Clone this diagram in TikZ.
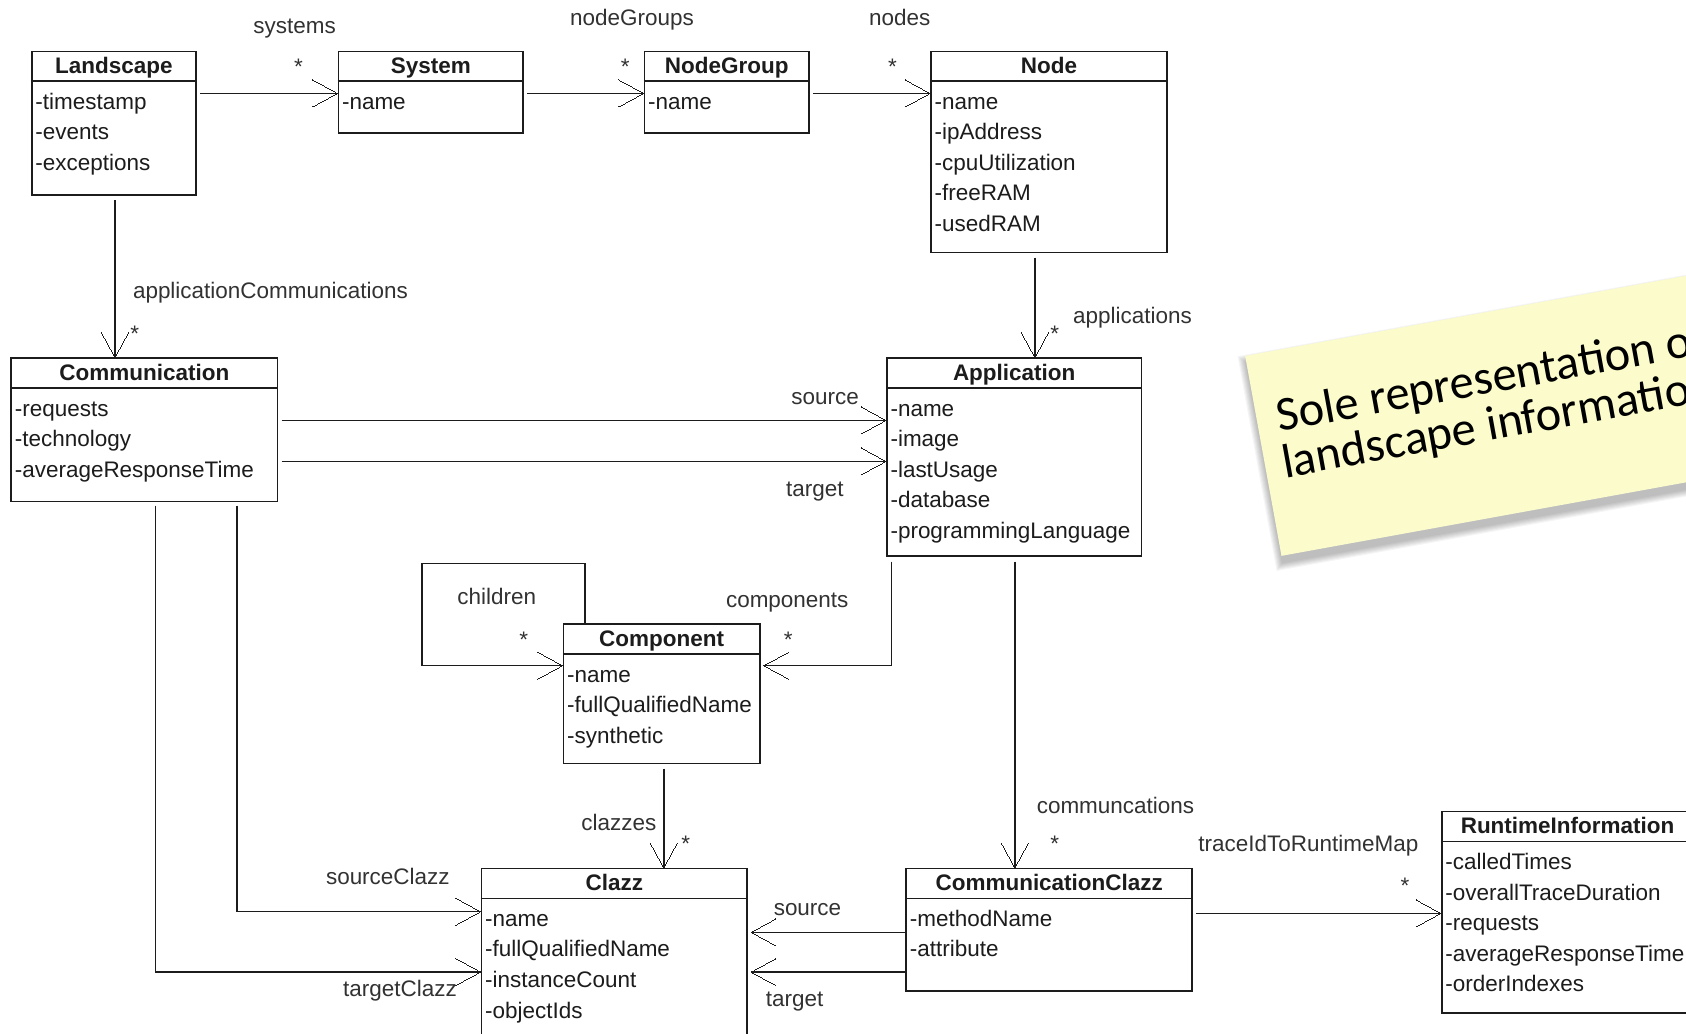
\documentclass[tikz,border=0pt]{standalone}
\usepackage{fontspec}
\setmainfont{Liberation Sans}
\newfontfamily\notefont{Carlito}
\usetikzlibrary{arrows.meta,calc}

\definecolor{ink}{RGB}{28,28,28}
\definecolor{labelink}{RGB}{50,50,50}
\definecolor{notefill}{RGB}{251,251,204}

% open "V" arrow head used by all associations
\pgfdeclarearrow{
  name = UMLvee,
  parameters = {\the\pgfarrowlength,\the\pgfarrowwidth,\the\pgfarrowlinewidth},
  setup code = {
    \pgfarrowssettipend{0pt}
    \pgfarrowssetlineend{-0.5\pgfarrowlinewidth}
    \pgfarrowsupperhullpoint{-\pgfarrowlength}{.5\pgfarrowwidth}
    \pgfarrowshullpoint{0pt}{0pt}
    \pgfarrowssavethe\pgfarrowlength
    \pgfarrowssavethe\pgfarrowwidth
    \pgfarrowssavethe\pgfarrowlinewidth
  },
  drawing code = {
    \pgfsetdash{}{+0pt}
    \pgfsetlinewidth{\pgfarrowlinewidth}
    \pgfsetmiterjoin
    \pgfpathmoveto{\pgfqpoint{-\pgfarrowlength}{.5\pgfarrowwidth}}
    \pgfpathlineto{\pgfqpoint{0pt}{0pt}}
    \pgfpathlineto{\pgfqpoint{-\pgfarrowlength}{-.5\pgfarrowwidth}}
    \pgfusepathqstroke
  },
  defaults = {length = 23pt, width = 25pt}
}

\tikzset{
  classbox/.style={draw=ink, line width=1.6pt, inner sep=0pt, fill=white},
  classsep/.style={draw=ink, line width=1.6pt},
  classtitle/.style={inner sep=0pt, text=ink, font=\fontsize{20.9}{24}\selectfont\bfseries},
  attr/.style={inner sep=0pt, text=ink, font=\fontsize{20.9}{24}\selectfont},
  lbl/.style={inner sep=0pt, text=labelink, font=\fontsize{20.9}{24}\selectfont},
  mult/.style={lbl, anchor=base},
  assoc/.style={draw=ink, line width=1.4pt, -{UMLvee[length=23pt,width=25pt]}},
  notetext/.style={inner sep=0pt, text=black, font=\notefont\fontsize{45}{50}\selectfont},
}

% class box: name, left, top, right, bottom, title, attributes
\newcommand\umlclass[7]{%
  \node[classbox, anchor=north west, minimum width={(#4)-(#2)}, minimum height={(#5)-(#3)}] (#1) at (#2,#3) {};
  \draw[classsep] ([yshift=-28.5pt]#1.north west) -- ([yshift=-28.5pt]#1.north east);
  \node[classtitle, anchor=base] (#1-title) at ([yshift=-21.3pt]#1.north) {#6};
  \foreach \attrtext [count=\attrno] in {#7} {
    \pgfmathsetmacro\attry{54.6+28.4*(\attrno-1)}
    \node[attr, anchor=base west] (#1-a\attrno) at ([shift={(4pt,-\attry pt)}]#1.north west) {\attrtext};
  }
}

\begin{document}
\begin{tikzpicture}[x=1pt, y=-1pt]
\useasboundingbox (0,0) rectangle (1568,961);
\clip (0,0) rectangle (1568,961);
\fill[white] (0,0) rectangle (1568,961);

% ---------- sticky note ----------
\begin{scope}[shift={(1158,331)}, rotate=10.3, transform shape]
  \foreach \e in {1,...,7}
    \fill[black, opacity=0.04] ({0-\e},{6-\e}) rectangle ({660+\e},{195+\e});
  \fill[notefill] (0,0) rectangle (660,189);
  \node[notetext, anchor=base west] (note1) at (19,75) {Sole representation of};
  \node[notetext, anchor=base west] (note2) at (16,118.4) {landscape information};
\end{scope}

% ---------- classes ----------
\umlclass{landscape}{28.8}{47.1}{181.5}{180.4}{Landscape}{-timestamp,-events,-exceptions}
\umlclass{system}{313.9}{47.1}{485.8}{123}{System}{-name}
\umlclass{nodegroup}{598.6}{47.1}{751.5}{123}{NodeGroup}{-name}
\umlclass{node}{865}{47.1}{1084.4}{234}{Node}{-name,-ipAddress,-cpuUtilization,-freeRAM,-usedRAM}
\umlclass{communication}{9.6}{332.3}{257.3}{465.6}{Communication}{-requests,-technology,-averageResponseTime}
\umlclass{application}{824}{332.3}{1060.8}{516.4}{Application}{-name,-image,-lastUsage,-database,-programmingLanguage}
\umlclass{component}{523.2}{579.7}{705.8}{709.3}{Component}{-name,-fullQualifiedName,-synthetic}
\umlclass{clazz}{447}{807}{694}{990}{Clazz}{-name,-fullQualifiedName,-instanceCount,-objectIds}
\umlclass{commclazz}{842}{807}{1108}{921}{CommunicationClazz}{-methodName,-attribute}
\umlclass{runtime}{1340}{754}{1574}{941}{RuntimeInformation}{-calledTimes,-overallTraceDuration,-requests,-averageResponseTime,-orderIndexes}

% ---------- associations ----------
\coordinate (toprow) at ([yshift=-39.7pt]system.north west);
\draw[assoc] ([xshift=3pt]landscape.east |- toprow) -- (system.west |- toprow);
\draw[assoc] ([xshift=3pt]system.east |- toprow) -- (nodegroup.west |- toprow);
\draw[assoc] ([xshift=3pt]nodegroup.east |- toprow) -- (node.west |- toprow);

\draw[assoc] ([shift={(1pt,-4pt)}]landscape.south) coordinate (lcstart) -- (lcstart |- communication.north);
\draw[assoc] ([shift={(-13pt,-4pt)}]node.south) coordinate (nastart) -- (nastart |- application.north);

\draw[assoc] ([shift={(3pt,-58.6pt)}]communication.north east) coordinate (csrc) -- (csrc -| application.west);
\draw[assoc] ([shift={(3pt,-96.7pt)}]communication.north east) coordinate (ctgt) -- (ctgt -| application.west);

\draw[assoc] ([shift={(5.2pt,-4.4pt)}]application.south west) |- ([shift={(3pt,-39.3pt)}]component.north east);
\draw[assoc] ([xshift=20.8pt]component.north west) |- ++(-151.6pt,55.8pt) |- ([yshift=-39.3pt]component.north west);

\draw[assoc] ([shift={(2pt,-4pt)}]component.south) coordinate (ccstart) -- (ccstart |- clazz.north);
\draw[assoc] ([shift={(0.6pt,-4.4pt)}]application.south) coordinate (accstart) -- (accstart |- commclazz.north);

\draw[assoc] ([shift={(210.9pt,-3pt)}]communication.south west) |- ([yshift=-40.8pt]clazz.north west);
\draw[assoc] ([shift={(135.1pt,-3pt)}]communication.south west) |- ([yshift=-96.9pt]clazz.north west);

\draw[assoc] ([yshift=-60pt]commclazz.north west) -- ([shift={(3pt,-60pt)}]clazz.north east);
\draw[assoc] ([yshift=-97pt]commclazz.north west) -- ([shift={(3pt,-97pt)}]clazz.north east);

\draw[assoc] ([shift={(3pt,-42.4pt)}]commclazz.north east) coordinate (crstart) -- (crstart -| runtime.west);

% ---------- role names ----------
\node[lbl, anchor=base] (r-systems) at (274,31) {systems};
\node[lbl, anchor=base] (r-nodegroups) at (587.8,23.3) {nodeGroups};
\node[lbl, anchor=base] (r-nodes) at (836.7,23.3) {nodes};
\node[lbl, anchor=base west] (r-appcomm) at (123.5,277.4) {applicationCommunications};
\node[lbl, anchor=base west] (r-apps) at (997.9,300.7) {applications};
\node[lbl, anchor=base east] (r-source1) at (799,376.6) {source};
\node[lbl, anchor=base east] (r-target1) at (784.8,461.3) {target};
\node[lbl, anchor=base] (r-children) at (462,562.6) {children};
\node[lbl, anchor=base west] (r-components) at (675,565.4) {components};
\node[lbl, anchor=base west] (r-clazzes) at (540.5,771.9) {clazzes};
\node[lbl, anchor=base west] (r-commclazz) at (964,756.4) {communcations};
\node[lbl, anchor=base west] (r-sourceclazz) at (303,823) {sourceClazz};
\node[lbl, anchor=base west] (r-targetclazz) at (319,926.9) {targetClazz};
\node[lbl, anchor=base west] (r-source2) at (719.4,851) {source};
\node[lbl, anchor=base west] (r-target2) at (712,936) {target};
\node[lbl, anchor=base west] (r-trace) at (1114.4,792) {traceIdToRuntimeMap};

% ---------- multiplicities ----------
\node[mult] (m-systems) at (277.6,69.4) {*};
\node[mult] (m-nodegroups) at (581.5,69.4) {*};
\node[mult] (m-nodes) at (830,69.4) {*};
\node[mult] (m-appcomm) at (125.3,318) {*};
\node[mult] (m-apps) at (980.8,318) {*};
\node[mult] (m-children) at (487,602.6) {*};
\node[mult] (m-components) at (733,602.6) {*};
\node[mult] (m-clazzes) at (637.8,792) {*};
\node[mult] (m-commclazz) at (981,792) {*};
\node[mult] (m-trace) at (1306.6,830.5) {*};
\end{tikzpicture}
\end{document}
